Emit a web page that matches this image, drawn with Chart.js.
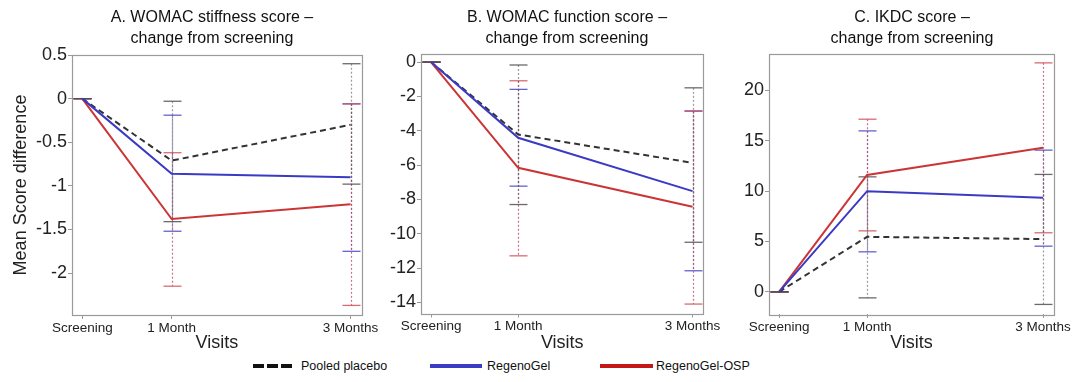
<!DOCTYPE html>
<html>
<head>
<meta charset="utf-8">
<script src="https://cdn.jsdelivr.net/npm/chart.js@4.4.1/dist/chart.umd.min.js"></script>
<style>
  body { margin: 0; background: #fff; font-family: "Liberation Sans", Arial, sans-serif; }
  #wrap { position: relative; width: 1074px; height: 382px; overflow: hidden; background: #fff; }
  canvas { position: absolute; top: 0; }
  .ptitle { position: absolute; top: 6px; width: 320px; text-align: center; font-size: 16px; line-height: 21px; color: #111; }
  .leg-line { position: absolute; top: 364px; height: 4px; }
  .leg-text { position: absolute; top: 358px; font-size: 12.5px; line-height: 16px; color: #111; white-space: nowrap; }
</style>
</head>
<body>
<div id="wrap">
  <canvas id="chartA" width="380" height="354" style="left:0px"></canvas>
  <canvas id="chartB" width="352" height="354" style="left:370px"></canvas>
  <canvas id="chartC" width="354" height="354" style="left:720px"></canvas>

  <div class="ptitle" style="left:52px">A. WOMAC stiffness score –<br>change from screening</div>
  <div class="ptitle" style="left:407px">B. WOMAC function score –<br>change from screening</div>
  <div class="ptitle" style="left:752px">C. IKDC score –<br>change from screening</div>

  <div class="leg-line" style="left:253px; width:40px; background:repeating-linear-gradient(to right,#111 0 11px,transparent 11px 14px)"></div>
  <div class="leg-text" style="left:301px">Pooled placebo</div>
  <div class="leg-line" style="left:430px; width:52px; background:#3b3bc4"></div>
  <div class="leg-text" style="left:487px">RegenoGel</div>
  <div class="leg-line" style="left:600px; width:53px; background:#c41818"></div>
  <div class="leg-text" style="left:656px">RegenoGel-OSP</div>
</div>

<script>
// 訪視時間點 (月)
const visitMonths = [0, 1, 3];
const visitLabels = ['Screening', '1 Month', '3 Months'];

// A. WOMAC stiffness
const placeboA = [0, -0.71, -0.30];
const placeboA_lo = [0, -1.41, -0.98];
const placeboA_hi = [0, -0.03, 0.40];
const gelA = [0, -0.86, -0.90];
const gelA_lo = [0, -1.52, -1.75];
const gelA_hi = [0, -0.19, -0.06];
const ospA = [0, -1.38, -1.21];
const ospA_lo = [0, -2.15, -2.37];
const ospA_hi = [0, -0.62, -0.06];
const yTicksA = [0.5, 0, -0.5, -1, -1.5, -2];

// B. WOMAC function
const placeboB = [0, -4.22, -5.87];
const placeboB_lo = [0, -8.30, -10.50];
const placeboB_hi = [0, -0.17, -1.50];
const gelB = [0, -4.41, -7.52];
const gelB_lo = [0, -7.23, -12.16];
const gelB_hi = [0, -1.59, -2.86];
const ospB = [0, -6.16, -8.43];
const ospB_lo = [0, -11.29, -14.10];
const ospB_hi = [0, -1.09, -2.84];
const yTicksB = [0, -2, -4, -6, -8, -10, -12, -14];

// C. IKDC
const placeboC = [0, 5.46, 5.23];
const placeboC_lo = [0, -0.60, -1.25];
const placeboC_hi = [0, 11.41, 11.65];
const gelC = [0, 9.99, 9.33];
const gelC_lo = [0, 3.97, 4.53];
const gelC_hi = [0, 15.97, 14.06];
const ospC = [0, 11.60, 14.29];
const ospC_lo = [0, 6.05, 5.86];
const ospC_hi = [0, 17.13, 22.72];
const yTicksC = [0, 5, 10, 15, 20];

const FONT = '"Liberation Sans", Arial, sans-serif';
const C_PLACEBO = '#333333';
const C_GEL = '#3a3ac4';
const C_OSP = '#cc3535';

// 誤差線 (dotted vertical + caps)
const errorBarPlugin = {
    id: 'errorBars',
    beforeDatasetsDraw(chart) {
        const ctx = chart.ctx;
        const xs = chart.scales.x;
        const ys = chart.scales.y;
        ctx.save();
        chart.data.datasets.forEach(ds => {
            visitMonths.forEach((m, j) => {
                const x = Math.round(xs.getPixelForValue(m)) + 0.5;
                const yLo = ys.getPixelForValue(ds.errLo[j]);
                const yHi = ys.getPixelForValue(ds.errHi[j]);
                ctx.strokeStyle = ds.barColor;
                ctx.lineWidth = 1.2;
                ctx.setLineDash([2, 2]);
                ctx.beginPath();
                ctx.moveTo(x, yHi);
                ctx.lineTo(x, yLo);
                ctx.stroke();
                ctx.setLineDash([]);
                ctx.lineWidth = 1.3;
                ctx.strokeStyle = ds.capColor;
                [yLo, yHi].forEach(y => {
                    ctx.beginPath();
                    ctx.moveTo(x - 9, y);
                    ctx.lineTo(x + 9, y);
                    ctx.stroke();
                });
            });
        });
        ctx.restore();
    }
};

// 圖框
const framePlugin = {
    id: 'frame',
    afterDraw(chart) {
        const a = chart.chartArea;
        const ctx = chart.ctx;
        ctx.save();
        ctx.strokeStyle = '#9a9a9a';
        ctx.lineWidth = 1.2;
        ctx.strokeRect(Math.round(a.left) + 0.5, Math.round(a.top) + 0.5,
            Math.round(a.right - a.left), Math.round(a.bottom - a.top));
        ctx.restore();
    }
};

function series(values, lo, hi, color, barColor, capColor, dash) {
    return {
        data: visitMonths.map((m, i) => ({ x: m, y: values[i] })),
        errLo: lo,
        errHi: hi,
        barColor: barColor,
        capColor: capColor,
        borderColor: color,
        borderWidth: 2,
        borderDash: dash || [],
        pointRadius: 0,
        tension: 0,
        fill: false
    };
}

function makePanel(id, p) {
    const ctx = document.getElementById(id);
    return new Chart(ctx, {
        type: 'line',
        data: {
            datasets: [
                series(p.gel, p.gelLo, p.gelHi, C_GEL, 'rgba(90,90,170,0.7)', 'rgba(70,70,200,0.85)'),
                series(p.osp, p.ospLo, p.ospHi, C_OSP, 'rgba(180,70,100,0.75)', 'rgba(210,80,90,0.85)'),
                series(p.placebo, p.placeboLo, p.placeboHi, C_PLACEBO, 'rgba(90,90,90,0.6)', 'rgba(80,80,80,0.85)', [6, 4])
            ]
        },
        options: {
            responsive: false,
            animation: false,
            layout: { padding: { top: p.top, right: p.padRight, left: 0, bottom: 0 } },
            plugins: { legend: { display: false }, tooltip: { enabled: false }, title: { display: false } },
            scales: {
                x: {
                    type: 'linear',
                    min: -0.115,
                    max: 3.125,
                    afterBuildTicks: s => { s.ticks = visitMonths.map(v => ({ value: v })); },
                    afterFit: s => { s.height = 354 - p.bottom; },
                    grid: { drawOnChartArea: false, drawTicks: true, tickLength: 4, color: '#999' },
                    border: { display: false },
                    ticks: {
                        padding: 1,
                        maxRotation: 0,
                        autoSkip: false,
                        color: '#222',
                        font: { family: FONT, size: 13.5 },
                        callback: v => visitLabels[visitMonths.indexOf(v)]
                    },
                    title: {
                        display: true,
                        text: 'Visits',
                        color: '#222',
                        font: { family: FONT, size: 18 },
                        padding: 0
                    }
                },
                y: {
                    min: p.yMin,
                    max: p.yMax,
                    afterBuildTicks: s => { s.ticks = p.yTicks.map(v => ({ value: v })); },
                    afterFit: s => { s.width = p.axisWidth; },
                    grid: { drawOnChartArea: false, drawTicks: true, tickLength: 4, color: '#999' },
                    border: { display: false },
                    ticks: {
                        padding: 1,
                        color: '#222',
                        font: { family: FONT, size: 18 },
                        callback: v => String(v)
                    },
                    title: {
                        display: !!p.yTitle,
                        text: p.yTitle || '',
                        color: '#222',
                        font: { family: FONT, size: 18 },
                        padding: { top: 10, bottom: 0 }
                    }
                }
            }
        },
        plugins: [errorBarPlugin, framePlugin]
    });
}

document.addEventListener('DOMContentLoaded', function() {
    makePanel('chartA', {
        placebo: placeboA, placeboLo: placeboA_lo, placeboHi: placeboA_hi,
        gel: gelA, gelLo: gelA_lo, gelHi: gelA_hi,
        osp: ospA, ospLo: ospA_lo, ospHi: ospA_hi,
        yTicks: yTicksA, yMin: -2.48, yMax: 0.5,
        top: 55, bottom: 315, axisWidth: 72, padRight: 18,
        yTitle: 'Mean Score difference'
    });
    makePanel('chartB', {
        placebo: placeboB, placeboLo: placeboB_lo, placeboHi: placeboB_hi,
        gel: gelB, gelLo: gelB_lo, gelHi: gelB_hi,
        osp: ospB, ospLo: ospB_lo, ospHi: ospB_hi,
        yTicks: yTicksB, yMin: -14.65, yMax: 0.5,
        top: 53.5, bottom: 313.5, axisWidth: 51, padRight: 18
    });
    makePanel('chartC', {
        placebo: placeboC, placeboLo: placeboC_lo, placeboHi: placeboC_hi,
        gel: gelC, gelLo: gelC_lo, gelHi: gelC_hi,
        osp: ospC, ospLo: ospC_lo, ospHi: ospC_hi,
        yTicks: yTicksC, yMin: -2.2, yMax: 23.65,
        top: 53.5, bottom: 314, axisWidth: 49, padRight: 20
    });
});
</script>
</body>
</html>
